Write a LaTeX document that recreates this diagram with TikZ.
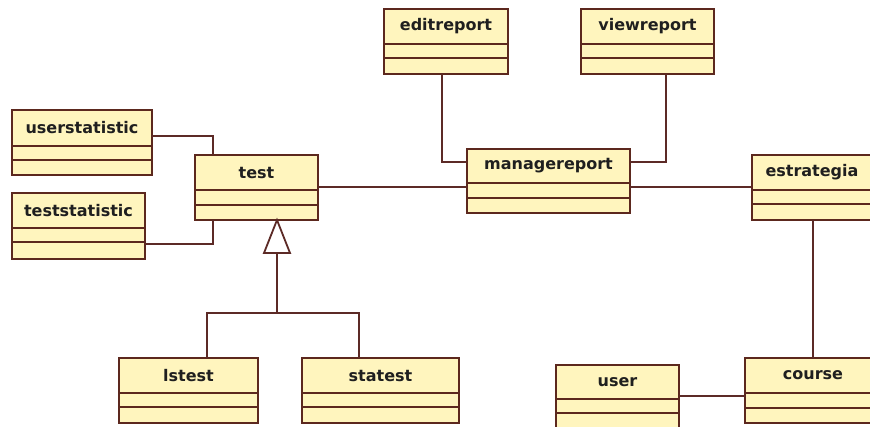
\documentclass[tikz,border=0pt]{standalone}
\usepackage{fontspec}
\setmainfont{DejaVu Sans}
\definecolor{classfill}{RGB}{255,245,190}
\definecolor{classline}{RGB}{92,40,30}
\definecolor{assoc}{RGB}{92,42,38}
\tikzset{
  classbox/.style={draw=classline, fill=classfill, line width=1.8pt,
    inner sep=0pt, outer sep=0pt, anchor=north west},
  compart/.style={draw=classline, line width=1.7pt},
  classname/.style={font=\fontsize{16}{19}\selectfont\bfseries, text=black!88},
  link/.style={draw=assoc, line width=1.8pt},
  inherit/.style={draw=assoc, line width=1.8pt, fill=white, line join=miter}
}
% \umlclass{name}{x1}{y1}{x2}{y2}{line1}{line2}{title}
\newcommand\umlclass[8]{%
  \node[classbox, minimum width={(#4-#2)*1pt}, minimum height={(#5-#3)*1pt}]
    (#1) at (#2,#3) {};
  \draw[compart] (#2,#6) -- (#4,#6);
  \draw[compart] (#2,#7) -- (#4,#7);
  \node[classname] (#1-title) at ({(#2+#4)/2},{(#3+#6)/2}) {#8};
}
\begin{document}
\begin{tikzpicture}[x=1pt,y=-1pt]
\useasboundingbox (0,0) rectangle (870,426);
\clip (0,0) rectangle (870,426);
\fill[white] (0,0) rectangle (870,426);

% classes
\umlclass{userstat}{12}{110}{152}{175}{146}{160}{userstatistic}
\umlclass{teststat}{12}{193}{145}{259}{228}{242}{teststatistic}
\umlclass{test}{195}{155}{318}{220}{190}{205}{test}
\umlclass{lstest}{119}{358}{258}{423}{393}{407}{lstest}
\umlclass{statest}{302}{358}{459}{423}{393}{407}{statest}
\umlclass{editreport}{384}{9}{508}{74}{44}{58}{editreport}
\umlclass{viewreport}{581}{9}{714}{74}{44}{58}{viewreport}
\umlclass{manage}{467}{149}{630}{213}{183}{198}{managereport}
\umlclass{estrategia}{752}{155}{872}{220}{190}{204}{estrategia}
\umlclass{course}{745}{358}{881}{423}{393}{408}{course}
\umlclass{user}{556}{365}{679}{434}{399}{413}{user}

% associations
\draw[link] (userstat.east |- {(0,136)}) -| (test.north -| {(213,0)});
\draw[link] (teststat.east |- {(0,244)}) -| (test.south -| {(213,0)});
\draw[link] (test.east |- {(0,187)}) -- (manage.west |- {(0,187)});
\draw[link] (manage.east |- {(0,187)}) -- (estrategia.west |- {(0,187)});
\draw[link] (editreport.south -| {(442,0)}) |- (manage.west |- {(0,162)});
\draw[link] (viewreport.south -| {(666,0)}) |- (manage.east |- {(0,162)});
\draw[link] (estrategia.south -| {(813,0)}) -- (course.north -| {(813,0)});
\draw[link] (user.east |- {(0,396)}) -- (course.west |- {(0,396)});

% generalisation: lstest and statest specialise test
\coordinate (apex) at (test.south -| {(277,0)});
\coordinate (base) at (277,253);
\coordinate (split) at (277,313);
\draw[link] (base) -- (split);
\draw[link] (split) -| (lstest.north -| {(207,0)});
\draw[link] (split) -| (statest.north -| {(359,0)});
\draw[inherit] (apex) -- (264,253) -- (290,253) -- cycle;
\end{tikzpicture}
\end{document}
